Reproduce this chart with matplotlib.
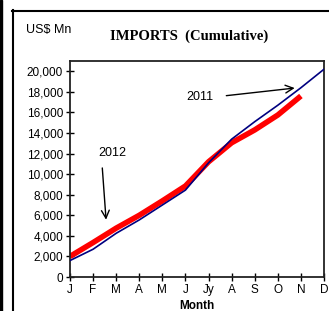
import matplotlib
matplotlib.use("Agg")
import matplotlib.pyplot as plt
from matplotlib.lines import Line2D
from matplotlib.patches import Rectangle

months = ["J", "F", "M", "A", "M", "J", "Jy", "A", "S", "O", "N", "D"]
imports_2011 = [1600, 2700, 4250, 5550, 7000, 8450, 11100, 13400, 15100, 16700, 18400, 20200]
imports_2012 = [2000, 3350, 4750, 6000, 7400, 8850, 11200, 13050, 14300, 15750, 17600]
y_ticks = list(range(0, 20001, 2000))

W, H = 329, 311
fig = plt.figure(figsize=(W / 100, H / 100), dpi=100)
fig.patch.set_facecolor("white")

ax = fig.add_axes([70 / W, 1 - 277 / H, (324 - 70) / W, (277 - 61) / H])

x11 = list(range(len(imports_2011)))
x12 = list(range(len(imports_2012)))
ax.plot(x11, imports_2011, color="#000080", lw=1.2, zorder=3)
ax.plot(x12, imports_2012, color="#ff0000", lw=4.0, zorder=2, solid_capstyle="butt")

ax.set_xlim(0, 11)
ax.set_ylim(0, 21000)
ax.set_xticks(range(12))
ax.set_xticklabels(months, fontsize=8.5, family="Liberation Sans")
ax.set_yticks(y_ticks)
ax.set_yticklabels([f"{v:,}" for v in y_ticks], fontsize=8.5, family="Liberation Sans")
ax.tick_params(direction="inout", length=6, width=1, colors="black", pad=2)
for s in ax.spines.values():
    s.set_linewidth(1.3)
    s.set_color("#222222")

ax.set_xlabel("Month", fontsize=8.5, fontweight="bold", family="Liberation Sans", labelpad=3)

# annotations
ax.annotate("", xy=(9.85, 18400), xytext=(6.65, 17600),
            arrowprops=dict(arrowstyle="->", color="black", lw=1.0, mutation_scale=14))
ax.text(5.63, 17480, "2011", fontsize=9, family="Liberation Sans", ha="center", va="center")
ax.annotate("", xy=(1.57, 5300), xytext=(1.39, 10870),
            arrowprops=dict(arrowstyle="->", color="black", lw=1.0, mutation_scale=14))
ax.text(1.82, 12040, "2012", fontsize=9, family="Liberation Sans", ha="center", va="center")

# titles
fig.text(49 / W, 1 - 30 / H, "US$ Mn", fontsize=9, family="Liberation Sans",
         ha="center", va="center")
fig.text(189 / W, 1 - 36 / H, "IMPORTS  (Cumulative)", fontsize=10.5, fontweight="bold",
         family="Liberation Serif", ha="center", va="center")

# outer frame
fig.add_artist(Line2D([12 / W, 1], [1 - 11 / H, 1 - 11 / H], color="black", lw=1.5,
                      transform=fig.transFigure))
fig.add_artist(Line2D([13 / W, 13 / W], [0, 1 - 10 / H], color="black", lw=1.5,
                      transform=fig.transFigure))
fig.add_artist(Rectangle((0, 0), 2 / W, 1, color="black", transform=fig.transFigure))

fig.savefig("out.png", dpi=100)
